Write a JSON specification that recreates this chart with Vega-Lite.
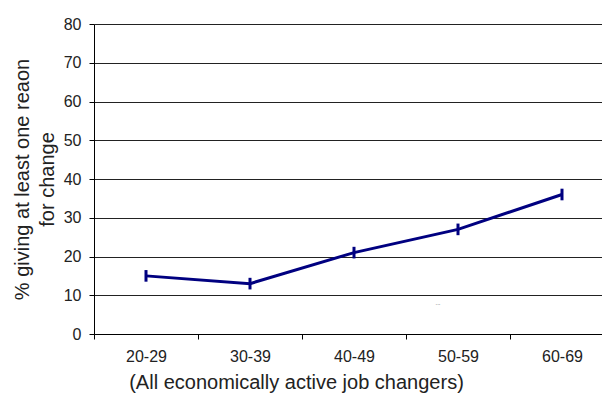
{
  "$schema": "https://vega.github.io/schema/vega-lite/v6.json",
  "autosize": "none",
  "width": 520,
  "height": 310,
  "padding": {"left": 94, "top": 24, "right": 0, "bottom": 67},
  "background": "white",
  "config": {
    "font": "Liberation Sans",
    "view": {"stroke": null},
    "axis": {"labelFont": "Liberation Sans", "titleFont": "Liberation Sans", "labelColor": "#222", "titleColor": "#222", "titleFontWeight": "normal"},
    "axisY": {
      "titleFontSize": 20, "titleX": -66, "titleY": 155, "titleAngle": -90,
      "titleAlign": "center", "titleBaseline": "alphabetic", "titleLineHeight": 25,
      "values": [0, 10, 20, 30, 40, 50, 60, 70, 80], "labelOverlap": false,
      "labelFontSize": 16, "labelPadding": 8,
      "domainColor": "#000", "tickColor": "#000", "tickSize": 5,
      "grid": true, "gridColor": "#222", "gridWidth": 1
    }
  },
  "data": {
    "values": [
      {"age": "20-29", "pct": 15, "lo": 13.5, "hi": 16.5},
      {"age": "30-39", "pct": 13, "lo": 11.5, "hi": 14.5},
      {"age": "40-49", "pct": 21, "lo": 19.5, "hi": 22.5},
      {"age": "50-59", "pct": 27, "lo": 25.5, "hi": 28.5},
      {"age": "60-69", "pct": 36, "lo": 34.5, "hi": 37.5}
    ]
  },
  "encoding": {
    "x": {
      "field": "age", "type": "nominal", "sort": null,
      "scale": {"paddingInner": 0, "paddingOuter": 0},
      "axis": {
        "title": "(All economically active job changers)",
        "titleFontSize": 20, "titleX": 202, "titleY": 38, "titleBaseline": "top",
        "labelAngle": 0, "labelFontSize": 16, "labelPadding": 9,
        "domainColor": "#000", "tickColor": "#000", "tickSize": 5, "tickBand": "extent",
        "grid": false
      }
    }
  },
  "layer": [
    {
      "mark": {"type": "line", "color": "#000080", "strokeWidth": 3},
      "encoding": {
        "y": {
          "field": "pct", "type": "quantitative",
          "scale": {"domain": [0, 80], "nice": false},
          "axis": {"title": ["% giving at least one reaon", "for change"], "titleLineHeight": 25}
        }
      }
    },
    {
      "mark": {"type": "rule", "color": "#000080", "strokeWidth": 3},
      "encoding": {
        "y": {"field": "lo", "type": "quantitative", "axis": {"title": ["% giving at least one reaon", "for change"], "titleLineHeight": 25}},
        "y2": {"field": "hi"}
      }
    },
    {
      "data": {"values": [{"age": "50-59", "v": 8, "t": "..."}]},
      "mark": {"type": "text", "fontSize": 6, "color": "#444", "dx": -20},
      "encoding": {
        "y": {"field": "v", "type": "quantitative", "axis": {"title": ["% giving at least one reaon", "for change"], "titleLineHeight": 25}},
        "text": {"field": "t"}
      }
    }
  ]
}
